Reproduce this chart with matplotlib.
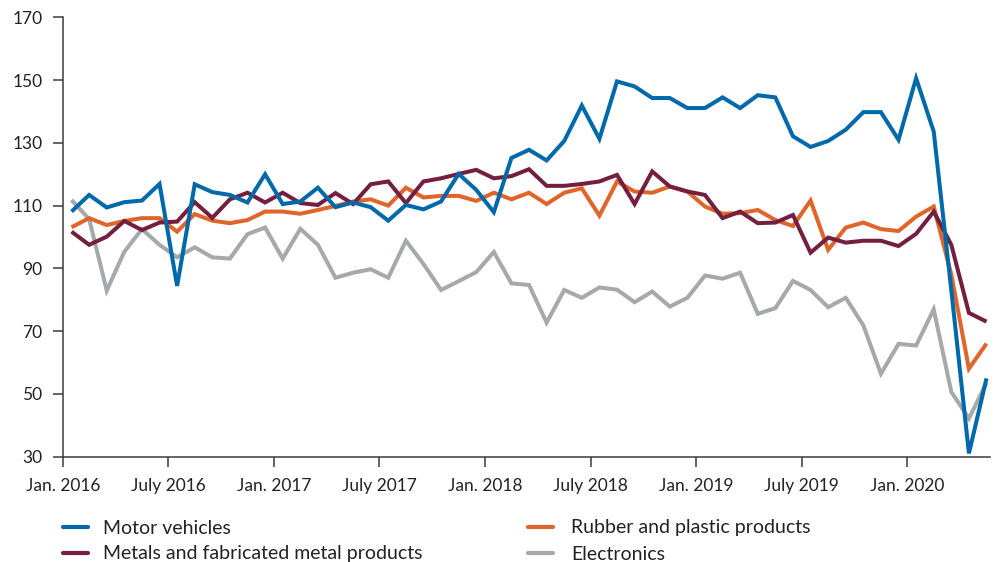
import matplotlib
matplotlib.use("Agg")
import matplotlib.pyplot as plt
from matplotlib.lines import Line2D

plt.rcParams["font.family"] = ["Lato", "DejaVu Sans"]

# Monthly index values, Jan. 2016 - May 2020
motor_vehicles = [
    108.1, 113.4, 109.4, 111.1, 111.6, 116.9, 84.4, 116.8, 114.3, 113.4, 111.0, 120.0,
    110.5, 111.3, 115.7, 109.5, 111.0, 109.5, 105.2, 110.2, 108.8, 111.3, 120.1, 115.0,
    107.9, 125.2, 127.8, 124.4, 130.6, 141.9, 131.3, 149.6, 148.0, 144.3, 144.3, 141.1,
    141.1, 144.5, 141.1, 145.2, 144.5, 132.1, 128.7, 130.6, 134.2, 139.8, 139.8, 131.0,
    150.6, 133.6, 83.0, 31.0, 54.9,
]
rubber_plastic = [
    103.1, 106.0, 103.8, 105.1, 106.0, 106.0, 101.7, 107.3, 105.2, 104.4, 105.4, 108.1,
    108.1, 107.4, 108.6, 109.9, 111.3, 112.0, 110.0, 115.7, 112.6, 113.1, 113.1, 111.5,
    114.1, 112.0, 114.1, 110.5, 114.1, 115.5, 106.8, 117.7, 114.5, 114.1, 116.1, 114.5,
    109.7, 107.4, 107.6, 108.6, 105.4, 103.5, 111.6, 95.9, 103.0, 104.6, 102.5, 101.9,
    106.5, 109.7, 88.0, 58.0, 66.0,
]
metals = [
    101.7, 97.5, 100.1, 105.1, 102.2, 104.6, 104.9, 111.1, 106.1, 112.0, 114.1, 111.0,
    114.1, 110.8, 110.2, 114.0, 110.5, 116.8, 117.7, 110.8, 117.7, 118.7, 120.1, 121.4,
    118.7, 119.4, 121.6, 116.3, 116.3, 116.9, 117.7, 119.8, 110.5, 120.9, 116.1, 114.5,
    113.4, 106.0, 108.1, 104.4, 104.6, 107.0, 95.0, 99.8, 98.2, 98.8, 98.8, 97.1,
    101.0, 108.1, 97.5, 75.8, 73.0,
]
electronics = [
    111.8, 105.7, 82.9, 95.3, 102.5, 97.5, 93.5, 96.7, 93.5, 93.1, 100.9, 103.0,
    93.1, 102.6, 97.5, 87.0, 88.6, 89.7, 87.0, 98.8, 91.4, 83.1, 85.9, 88.8,
    95.2, 85.2, 84.7, 72.7, 83.1, 80.6, 83.9, 83.2, 79.2, 82.6, 77.8, 80.6,
    87.7, 86.7, 88.6, 75.5, 77.3, 86.0, 83.1, 77.6, 80.6, 71.8, 56.4, 65.9,
    65.4, 76.9, 50.6, 42.1, 53.5,
]

series_names = [
    "Motor vehicles",
    "Metals and fabricated metal products",
    "Rubber and plastic products",
    "Electronics",
]
tick_labels = [
    "Jan. 2016", "July 2016", "Jan. 2017", "July 2017", "Jan. 2018",
    "July 2018", "Jan. 2019", "July 2019", "Jan. 2020",
]
y_ticks = [30, 50, 70, 90, 110, 130, 150, 170]

colors = {
    "Motor vehicles": "#0069aa",
    "Metals and fabricated metal products": "#741f40",
    "Rubber and plastic products": "#e0652a",
    "Electronics": "#a5a9ac",
}
data = {
    "Motor vehicles": motor_vehicles,
    "Metals and fabricated metal products": metals,
    "Rubber and plastic products": rubber_plastic,
    "Electronics": electronics,
}

W, H = 996, 562
fig = plt.figure(figsize=(W / 100, H / 100), dpi=100)
ax = fig.add_axes([0.063, 0.1877, 0.931, 0.7813])

# points sit in the middle of each month
x = [i + 0.5 for i in range(len(motor_vehicles))]
draw_order = ["Electronics", "Rubber and plastic products",
              "Metals and fabricated metal products", "Motor vehicles"]
for name in draw_order:
    ax.plot(x, data[name], color=colors[name], lw=2.9,
            solid_joinstyle="miter", solid_capstyle="butt")

ax.set_xlim(0, 52.7)
ax.set_ylim(30, 170)
ax.set_yticks(y_ticks)
ax.set_xticks([6 * i for i in range(len(tick_labels))])
ax.set_xticklabels(tick_labels)

for side in ("top", "right"):
    ax.spines[side].set_visible(False)
for side in ("left", "bottom"):
    ax.spines[side].set_color("#3a3a3a")
    ax.spines[side].set_linewidth(1.1)
ax.tick_params(axis="both", direction="out", length=7, width=1.1,
               color="#3a3a3a", labelsize=12.5, labelcolor="#222222")
ax.tick_params(axis="x", pad=8.5)
ax.tick_params(axis="y", pad=7.5)

# legend laid out in two columns below the axes (positions in pixels)
legend_slots = [
    (63, 526.5, 40), (63, 552.5, 40),
    (528, 526.5, 43), (528, 552.5, 43),
]
for name, (px, py, gap) in zip(series_names, legend_slots):
    yf = 1 - py / H
    fig.add_artist(Line2D([px / W, (px + 25) / W], [yf, yf],
                          transform=fig.transFigure, color=colors[name],
                          lw=3.0, solid_capstyle="round"))
    fig.text((px + gap) / W, yf, name, fontsize=14, color="#222222",
             ha="left", va="center_baseline")

fig.savefig("out.png", dpi=100)
